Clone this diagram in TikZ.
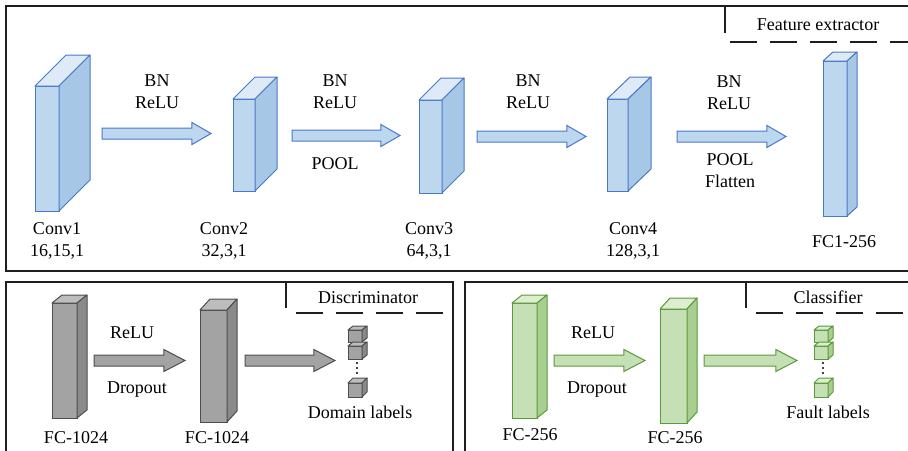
\documentclass[tikz,border=0pt]{standalone}
\usepackage{fontspec}
\setmainfont{Liberation Serif}
\usepackage{xcolor}
\usepackage{tikz}
\usetikzlibrary{shapes.arrows}

\definecolor{blueF}{HTML}{BDD7EE}
\definecolor{blueT}{HTML}{DEEBF7}
\definecolor{blueS}{HTML}{A7C7E6}
\definecolor{blueD}{HTML}{4A78C8}
\definecolor{grayF}{HTML}{A3A3A3}
\definecolor{grayT}{HTML}{BDBDBD}
\definecolor{grayS}{HTML}{8A8A8A}
\definecolor{grayD}{HTML}{4D4D4D}
\definecolor{greenF}{HTML}{C5E0B4}
\definecolor{greenT}{HTML}{DCEDD0}
\definecolor{greenS}{HTML}{A9CF90}
\definecolor{greenD}{HTML}{5B9A3A}
\definecolor{frameC}{HTML}{1E1E1E}

% top and side faces of a block drawn as a node
\newcommand{\cubefaces}[4]{%
  \draw[draw=#2D, fill=#2T, line width=1pt, line join=round] (#1.north west) -- (#1.north east) -- ++(#3,-#4) -- ([shift={(#3,-#4)}]#1.north west) -- cycle;
  \draw[draw=#2D, fill=#2S, line width=1pt, line join=round] (#1.north east) -- (#1.south east) -- ++(#3,-#4) -- ([shift={(#3,-#4)}]#1.north east) -- cycle;
}

\begin{document}
\begin{tikzpicture}[
    x=1pt, y=-1pt,
    font=\fontsize{18}{22}\selectfont,
    cube/.style={draw, line width=1pt, outer sep=0pt, inner sep=0pt},
    bluecube/.style={cube, fill=blueF, draw=blueD},
    graycube/.style={cube, fill=grayF, draw=grayD},
    greencube/.style={cube, fill=greenF, draw=greenD},
    barrow/.style={single arrow, draw, line width=1pt, inner xsep=0pt, inner ysep=5pt, outer sep=0pt,
        single arrow head extend=5.5pt, single arrow tip angle=60, anchor=tail},
    lbl/.style={align=center, inner sep=0pt, anchor=base},
    frame/.style={draw=frameC, line width=1.8pt},
    tabline/.style={frame, dash pattern=on 27pt off 13pt}
]
\useasboundingbox (0,0) rectangle (908,450);
\clip (0,0) rectangle (908,450);

% panels
\draw[frame] (915,6) -- (6,6) -- (6,271) -- (915,271);
\draw[frame] (6,455) -- (6,282) -- (453,282) -- (453,455);
\draw[frame] (465,455) -- (465,282) -- (915,282);

\draw[frame] (725,6) -- (725,33);
\draw[tabline] (730,42) -- (915,42);
\node[lbl] (fetitle) at (818,30) {Feature extractor};

\draw[frame] (286,282) -- (286,308);
\draw[tabline] (296,313) -- (448,313);
\node[lbl] (dtitle) at (368,303) {Discriminator};

\draw[frame] (746,282) -- (746,308);
\draw[tabline] (756,313) -- (915,313);
\node[lbl] (ctitle) at (828,303) {Classifier};

% feature extractor
\node[bluecube, minimum width=24pt, minimum height=125pt] (conv1) at (47,148.5) {};
\cubefaces{conv1}{blue}{31}{31}
\node[bluecube, minimum width=22pt, minimum height=92pt] (conv2) at (244,145) {};
\cubefaces{conv2}{blue}{22}{22}
\node[bluecube, minimum width=23pt, minimum height=93pt] (conv3) at (430.5,146.5) {};
\cubefaces{conv3}{blue}{22}{22}
\node[bluecube, minimum width=21pt, minimum height=92pt] (conv4) at (617.5,145) {};
\cubefaces{conv4}{blue}{23}{22}
\node[bluecube, minimum width=24pt, minimum height=155pt] (fc1) at (835,138.5) {};
\cubefaces{fc1}{blue}{10}{9}

\node[barrow, fill=blueF, draw=blueD, minimum height=109pt] (a1) at (102,133.5) {};
\node[barrow, fill=blueF, draw=blueD, minimum height=108pt] (a2) at (292,135.5) {};
\node[barrow, fill=blueF, draw=blueD, minimum height=109pt] (a3) at (477,136.5) {};
\node[barrow, fill=blueF, draw=blueD, minimum height=109pt] (a4) at (677,136.5) {};

\node[lbl] (op1) at (157,108) {BN\\ReLU};
\node[lbl] (op2) at (335,108) {BN\\ReLU};
\node[lbl] (pool2) at (335,169) {POOL};
\node[lbl] (op3) at (528,108) {BN\\ReLU};
\node[lbl] (op4) at (729,109) {BN\\ReLU};
\node[lbl] (pool4) at (730,187) {POOL\\Flatten};

\node[lbl] (conv1lbl) at (57,256) {Conv1\\16,15,1};
\node[lbl] (conv2lbl) at (224,256) {Conv2\\32,3,1};
\node[lbl] (conv3lbl) at (429,256) {Conv3\\64,3,1};
\node[lbl] (conv4lbl) at (633,256) {Conv4\\128,3,1};
\node[lbl] (fc1lbl) at (844,247) {FC1-256};

% discriminator
\node[graycube, minimum width=25pt, minimum height=115pt] (dfc1) at (64.5,360.5) {};
\cubefaces{dfc1}{gray}{10}{8}
\node[graycube, minimum width=27pt, minimum height=112pt] (dfc2) at (213.5,366) {};
\cubefaces{dfc2}{gray}{10}{11}
\node[graycube, minimum width=14pt, minimum height=12pt] (dout1) at (355,336) {};
\cubefaces{dout1}{gray}{5}{4}
\node[graycube, minimum width=14pt, minimum height=13pt] (dout2) at (355,352.5) {};
\cubefaces{dout2}{gray}{5}{4}
\node[graycube, minimum width=14pt, minimum height=14pt] (dout3) at (355,390) {};
\cubefaces{dout3}{gray}{5}{5}
\fill (357,363) circle (1.2) (357,368) circle (1.2) (357,373) circle (1.2);

\node[barrow, fill=grayF, draw=grayD, minimum height=91pt, single arrow tip angle=55] (da1) at (94,360.5) {};
\node[barrow, fill=grayF, draw=grayD, minimum height=90pt, single arrow tip angle=55] (da2) at (245,360.5) {};

\node[lbl] (drelu) at (132,338) {ReLU};
\node[lbl] (ddrop) at (137,393) {Dropout};
\node[lbl] (dfc1lbl) at (76,443) {FC-1024};
\node[lbl] (dfc2lbl) at (217,443) {FC-1024};
\node[lbl] (dout) at (360,418) {Domain labels};

% classifier
\node[greencube, minimum width=25pt, minimum height=115pt] (cfc1) at (524.5,360.5) {};
\cubefaces{cfc1}{green}{10}{8}
\node[greencube, minimum width=27pt, minimum height=114pt] (cfc2) at (673.5,366) {};
\cubefaces{cfc2}{green}{10}{11}
\node[greencube, minimum width=14pt, minimum height=12pt] (cout1) at (821,336) {};
\cubefaces{cout1}{green}{5}{4}
\node[greencube, minimum width=14pt, minimum height=13pt] (cout2) at (821,352.5) {};
\cubefaces{cout2}{green}{5}{4}
\node[greencube, minimum width=14pt, minimum height=14pt] (cout3) at (821,390) {};
\cubefaces{cout3}{green}{5}{5}
\fill (823,363) circle (1.2) (823,368) circle (1.2) (823,373) circle (1.2);

\node[barrow, fill=greenF, draw=greenD, minimum height=91pt, single arrow tip angle=55] (ca1) at (554,360.5) {};
\node[barrow, fill=greenF, draw=greenD, minimum height=93pt, single arrow tip angle=55] (ca2) at (704,360.5) {};

\node[lbl] (crelu) at (593,338) {ReLU};
\node[lbl] (cdrop) at (597,393) {Dropout};
\node[lbl] (cfc1lbl) at (530,440) {FC-256};
\node[lbl] (cfc2lbl) at (675,443) {FC-256};
\node[lbl] (cout) at (828,418) {Fault labels};

\end{tikzpicture}
\end{document}
